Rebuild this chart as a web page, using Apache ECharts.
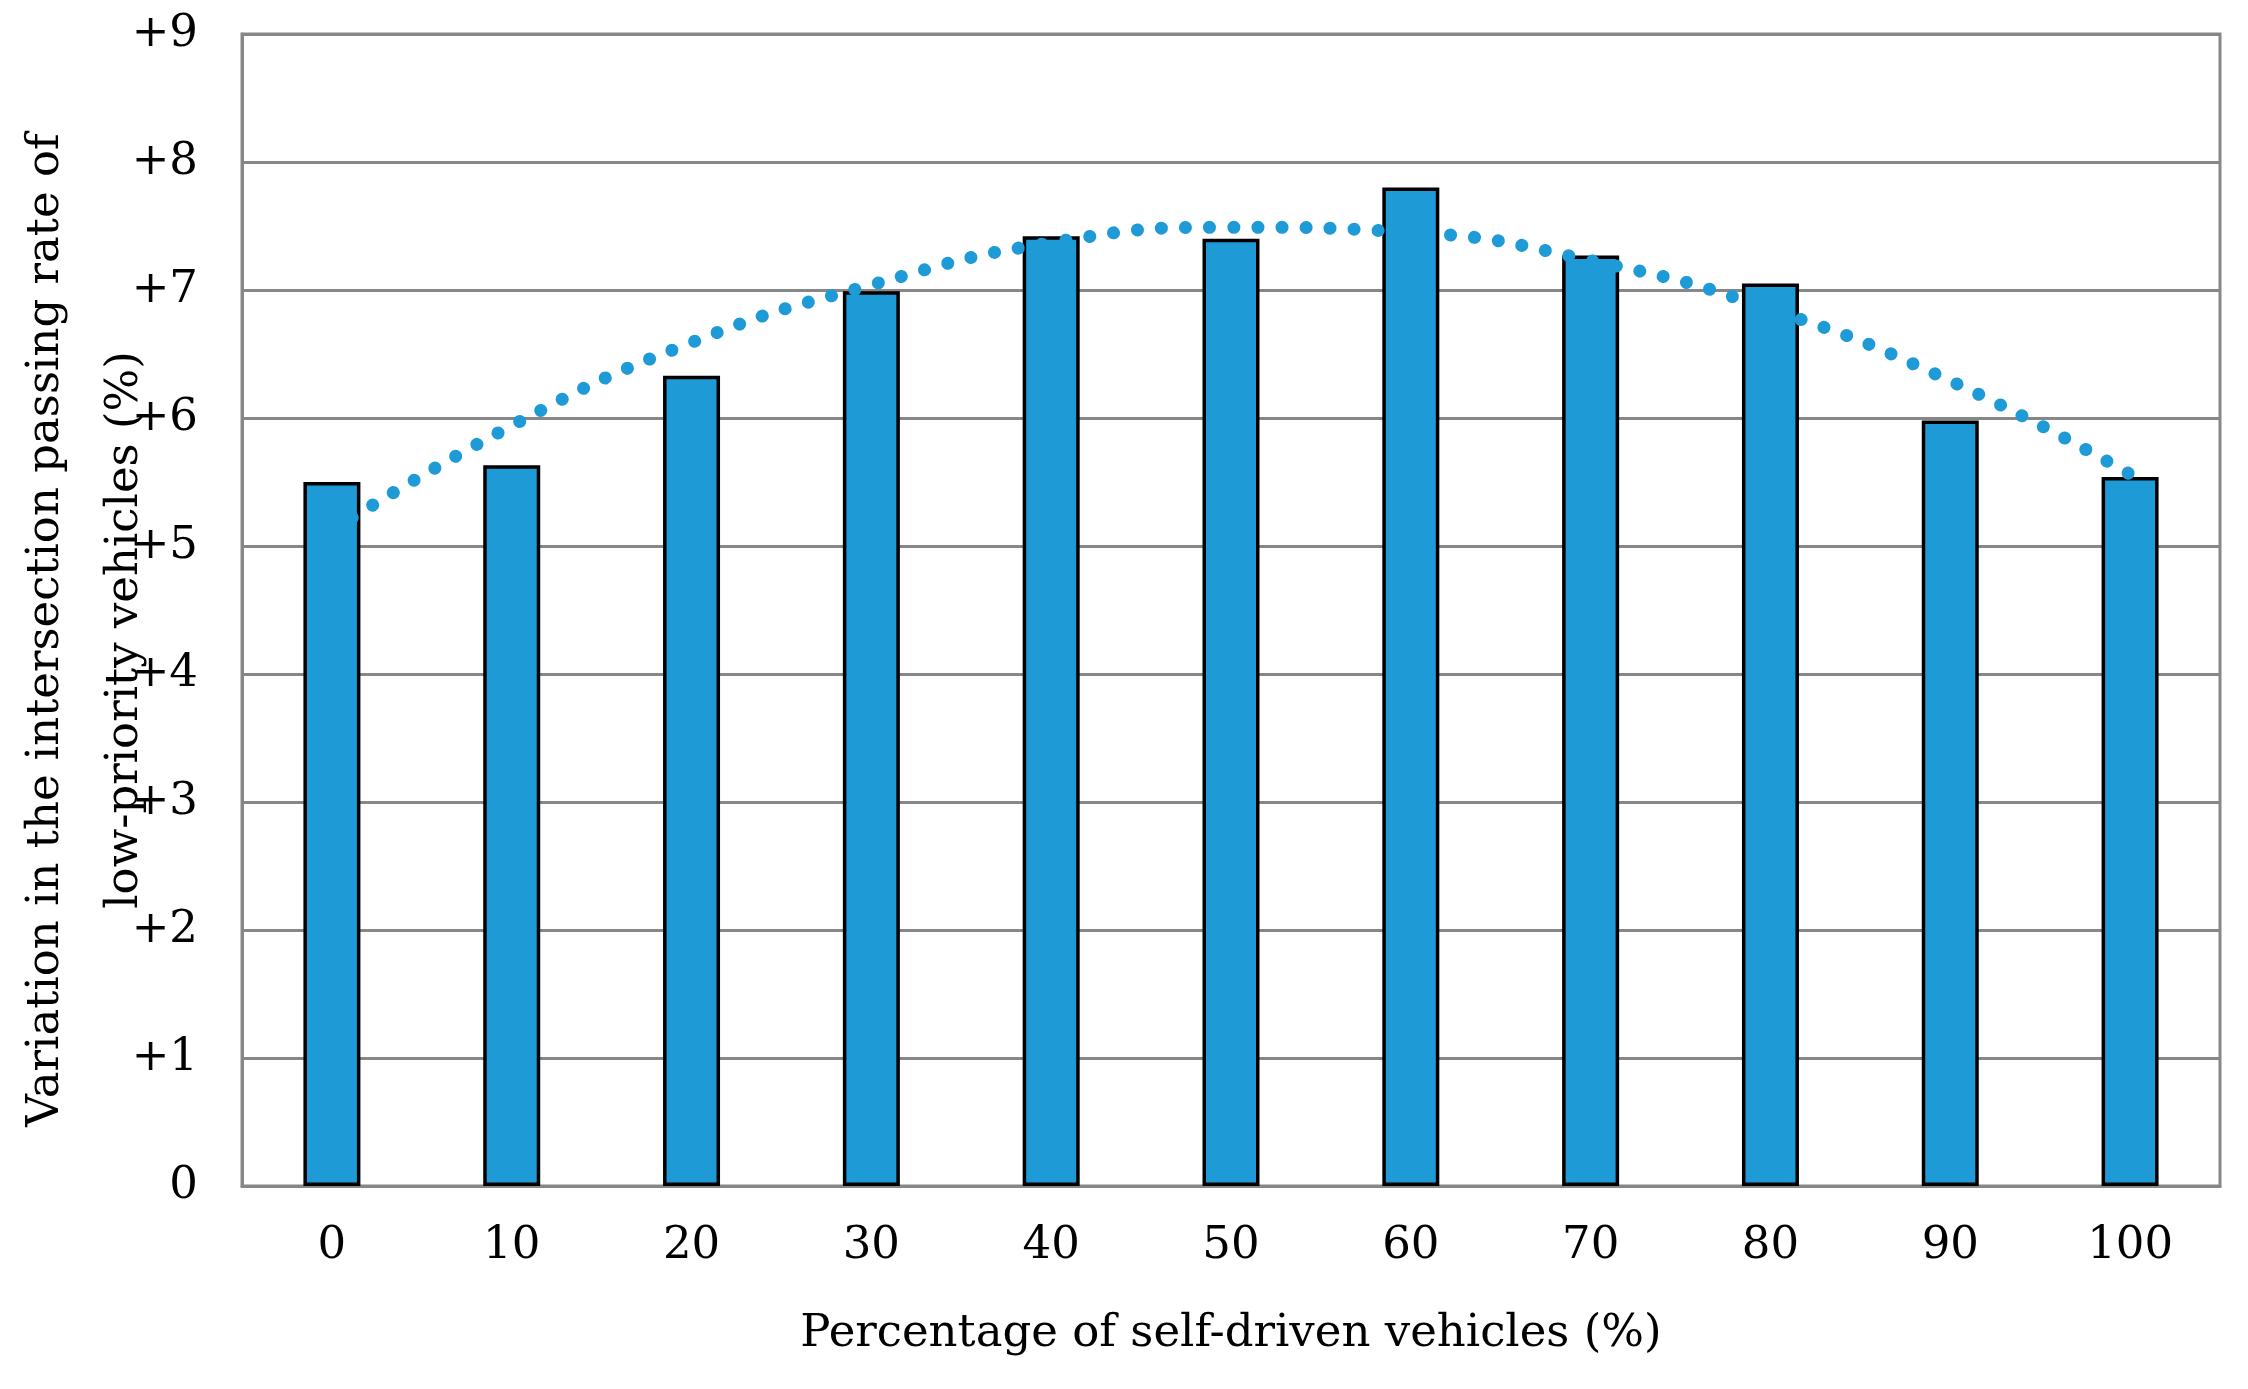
<!DOCTYPE html>
<html>
<head>
<meta charset="utf-8">
<script src="https://cdn.jsdelivr.net/npm/echarts@6/dist/echarts.min.js"></script>
<style>
html,body{margin:0;padding:0;background:#fff;}
#chart{width:2248px;height:1389px;}
</style>
</head>
<body>
<div id="chart"></div>
<script>
const categories = ['0','10','20','30','40','50','60','70','80','90','100'];
const barValues = [5.50, 5.63, 6.33, 6.99, 7.42, 7.40, 7.80, 7.27, 7.05, 5.98, 5.54];
const trendValues = [5.12, 5.94, 6.59, 7.04, 7.37, 7.49, 7.45, 7.23, 6.85, 6.29, 5.56];
const yTickLabels = ['0','+1','+2','+3','+4','+5','+6','+7','+8','+9'];
const xTitle = 'Percentage of self-driven vehicles (%)';
const yTitle = 'Variation in the intersection passing rate of\nlow-priority vehicles (%)';

const FONT = '"DejaVu Serif", "Liberation Serif", serif';
const chart = echarts.init(document.getElementById('chart'), null, {renderer:'canvas'});
chart.setOption({
  backgroundColor:'#ffffff',
  animation:false,
  grid:{left:242, right:28, top:34, bottom:203, show:true, borderColor:'#878787', borderWidth:3},
  xAxis:{
    type:'category',
    data:categories,
    boundaryGap:true,
    axisLine:{show:true, lineStyle:{color:'#878787', width:3}},
    axisTick:{show:false},
    axisLabel:{color:'#000', fontFamily:FONT, fontSize:45, margin:38},
    name:xTitle,
    nameLocation:'middle',
    nameGap:126,
    nameTextStyle:{color:'#000', fontFamily:FONT, fontSize:45}
  },
  yAxis:{
    type:'value',
    min:0, max:9, interval:1,
    axisLine:{show:true, lineStyle:{color:'#878787', width:3}},
    axisTick:{show:false},
    splitLine:{show:true, lineStyle:{color:'#878787', width:3}},
    axisLabel:{color:'#000', fontFamily:FONT, fontSize:45, margin:44,
      formatter:function(v){ return yTickLabels[Math.round(v)]; }}
  },
  graphic:[{
    type:'text',
    x:86, y:630,
    rotation:Math.PI/2,
    style:{text:yTitle, fill:'#000', font:'45px ' + FONT, align:'center', verticalAlign:'middle', lineHeight:79}
  }],
  series:[
    {
      type:'bar',
      data:barValues,
      barWidth:57,
      itemStyle:{color:'#1E9BD7', borderColor:'#000', borderWidth:3.5},
      z:2
    },
    {
      type:'line',
      data:trendValues,
      smooth:true,
      symbol:'none',
      lineStyle:{color:'#1E9BD7', width:13, cap:'round', type:[0.1, 24]},
      z:3
    }
  ]
});
</script>
</body>
</html>
